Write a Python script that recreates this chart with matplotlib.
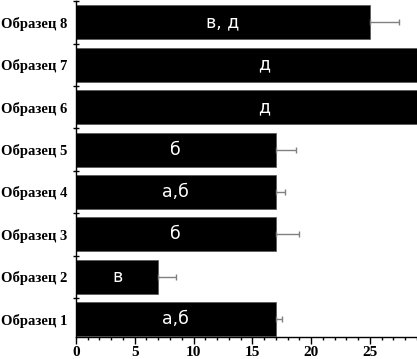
import matplotlib
matplotlib.use("Agg")
import matplotlib.pyplot as plt
from matplotlib.ticker import MultipleLocator, FixedLocator

categories = ["Образец 1", "Образец 2", "Образец 3", "Образец 4",
              "Образец 5", "Образец 6", "Образец 7", "Образец 8"]
values = [17, 7, 17, 17, 17, 32, 32, 25]
errors = [0.5, 1.5, 2.0, 0.8, 1.7, 0, 0, 2.5]
letters = ["а,б", "в", "б", "а,б", "б", "д", "д", "в, д"]
xticks = [0, 5, 10, 15, 20, 25]

fig = plt.figure(figsize=(4.17, 3.59), dpi=100)
ax = fig.add_axes([0.182, 0.061, 0.818, 0.936])

ypos = list(range(len(categories)))
ax.barh(ypos, values, height=0.8, color="black", edgecolor="#555555", linewidth=0.5,
        xerr=[[0] * len(errors), errors],
        error_kw=dict(ecolor="#808080", elinewidth=1.0, capsize=2.5, capthick=1.0))

for y, v, t in zip(ypos, values, letters):
    ax.text(v / 2, y, t, color="white", ha="center", va="center",
            fontsize=12.5, family="DejaVu Sans")

ax.set_xlim(0, 29)
ax.set_ylim(-0.42, 7.5)
ax.set_yticks(ypos)
ax.set_yticklabels(categories, family="Liberation Serif", fontweight="bold", fontsize=10.5)
ax.yaxis.set_minor_locator(FixedLocator([i + 0.5 for i in range(-1, 8)]))
ax.tick_params(axis="y", which="major", length=0, pad=6)
ax.tick_params(axis="y", which="minor", length=5, direction="inout", width=1)

ax.set_xticks(xticks)
ax.set_xticklabels([str(t) for t in xticks], family="Liberation Serif", fontweight="bold", fontsize=11)
ax.xaxis.set_minor_locator(MultipleLocator(1))
ax.tick_params(axis="x", which="major", length=5, width=1, direction="out", pad=1.5)
ax.tick_params(axis="x", which="minor", length=2.5, width=1, direction="out")

ax.spines["top"].set_visible(False)
ax.spines["right"].set_visible(False)
ax.spines["left"].set_linewidth(1.0)
ax.spines["bottom"].set_linewidth(1.0)

fig.savefig("out.png", dpi=100)
